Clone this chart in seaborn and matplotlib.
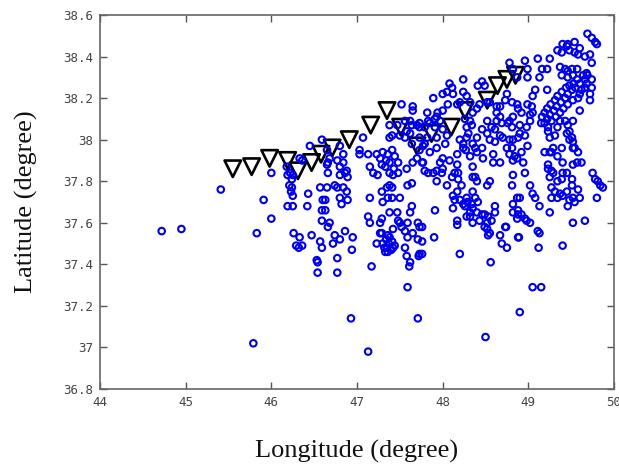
import matplotlib
matplotlib.use("Agg")
import matplotlib.pyplot as plt
import seaborn as sns
import pandas as pd

# ---- data: (longitude, latitude) of events, grouped by area ----
south = [(44.72, 37.56), (44.95, 37.57), (45.41, 37.76), (45.83, 37.55), (45.79, 37.02), (45.91, 37.71),
         (46.00, 37.62), (46.00, 37.84), (46.93, 37.14), (47.13, 36.98), (47.59, 37.29), (47.71, 37.14),
         (48.50, 37.05), (48.90, 37.17), (49.05, 37.29), (49.15, 37.29), (48.20, 37.45), (48.56, 37.41),
         (47.90, 37.53), (49.40, 37.49), (49.12, 37.48), (49.13, 37.55), (48.69, 37.50), (48.75, 37.48),
         (48.89, 37.53), (48.53, 37.54), (47.17, 37.39), (46.94, 37.47), (46.95, 37.53), (46.77, 37.43),
         (46.77, 37.36), (46.54, 37.36), (46.54, 37.41), (46.59, 37.48), (46.72, 37.50), (46.80, 37.52),
         (46.47, 37.54), (46.26, 37.55), (46.29, 37.49), (46.36, 37.49), (46.32, 37.48), (46.53, 37.42),
         (47.29, 37.55), (47.30, 37.50), (47.35, 37.48), (47.42, 37.48), (47.56, 37.48), (47.58, 37.44),
         (47.62, 37.41), (47.61, 37.39), (47.71, 37.52), (47.72, 37.44), (47.34, 37.52), (47.37, 37.50),
         (47.40, 37.47), (47.33, 37.46), (47.38, 37.53)]

central = [(46.63, 37.71), (46.63, 37.66), (46.80, 37.72), (46.82, 37.69), (46.89, 37.71), (46.68, 37.60),
           (46.66, 37.58), (46.74, 37.54), (46.86, 37.56), (47.13, 37.63), (47.15, 37.60), (47.29, 37.62),
           (47.30, 37.70), (47.41, 37.72), (47.27, 37.55), (47.23, 37.50), (47.47, 37.65), (47.48, 37.61),
           (47.42, 37.57), (47.52, 37.58), (47.56, 37.56), (47.62, 37.65), (47.64, 37.68), (47.71, 37.60),
           (47.73, 37.58), (47.59, 37.53), (47.73, 37.45), (47.36, 37.54), (47.41, 37.51), (47.32, 37.48),
           (47.44, 37.49), (47.36, 37.46)]

west = [(46.45, 37.97), (46.33, 37.91), (46.22, 37.84), (46.24, 37.81), (46.24, 37.77), (46.25, 37.73),
        (46.19, 37.68), (46.25, 37.68), (46.43, 37.74), (46.42, 37.68), (46.33, 37.53), (46.59, 38.00),
        (46.57, 37.77), (46.60, 37.71), (46.59, 37.66), (46.59, 37.61), (46.57, 37.51), (46.18, 37.87),
        (46.36, 37.90), (46.25, 37.83), (46.66, 37.89), (46.77, 37.90), (46.84, 37.89), (46.86, 37.84),
        (46.80, 37.83), (46.65, 37.77), (46.74, 37.78), (46.84, 37.77), (46.88, 37.75), (46.65, 37.95),
        (46.68, 37.91), (46.65, 37.88), (46.66, 37.84), (46.21, 37.78), (46.23, 37.75), (46.19, 37.83),
        (46.80, 37.97), (46.84, 37.93)]

middle = [(47.52, 38.17), (47.65, 38.16), (47.38, 38.07), (47.47, 38.07), (47.56, 38.09), (47.62, 38.09),
          (47.70, 38.07), (47.41, 38.02), (47.50, 38.02), (47.56, 38.01), (47.62, 38.03), (47.64, 37.98),
          (47.73, 38.01), (47.73, 37.95), (47.70, 37.91), (47.76, 37.89), (47.07, 38.01), (47.03, 37.95),
          (47.03, 37.93), (47.13, 37.93), (46.80, 37.87), (46.88, 37.85), (46.89, 37.82), (46.77, 37.77),
          (47.15, 37.87), (47.19, 37.84), (47.24, 37.83), (47.30, 37.94), (47.36, 37.93), (47.41, 37.95),
          (47.34, 37.90), (47.38, 37.89), (47.44, 37.92), (47.48, 37.89), (47.29, 37.88), (47.33, 37.87),
          (47.38, 37.84), (47.42, 37.83), (47.48, 37.84), (47.43, 37.86), (47.27, 37.91), (47.58, 37.86),
          (47.64, 37.79), (47.59, 37.78), (47.41, 37.77), (47.35, 37.77), (47.29, 37.75), (47.23, 37.93),
          (47.38, 37.78), (47.15, 37.72), (47.36, 37.72), (47.50, 37.72), (47.27, 37.60), (47.38, 37.65),
          (47.50, 37.60), (47.59, 37.60), (47.65, 37.55), (47.73, 38.08), (47.73, 38.06), (47.79, 37.98),
          (47.79, 37.85), (47.83, 37.84), (47.89, 37.84), (47.93, 37.85), (47.65, 37.89), (47.65, 38.14),
          (47.38, 38.01), (47.58, 38.04), (47.64, 38.07)]

east_central = [(48.78, 38.37), (48.82, 38.34), (48.46, 38.28), (48.41, 38.26), (48.49, 38.26), (48.11, 38.25),
                (48.05, 38.23), (48.12, 38.22), (48.24, 38.23), (48.28, 38.21), (48.20, 38.18), (48.32, 38.18),
                (48.00, 38.22), (47.89, 38.20), (48.06, 38.17), (48.17, 38.17), (47.82, 38.13), (47.94, 38.13),
                (48.00, 38.14), (47.91, 38.10), (47.97, 38.09), (47.85, 38.08), (47.79, 38.06), (47.91, 38.06),
                (48.00, 38.05), (48.05, 38.02), (48.03, 37.98), (47.82, 38.01), (47.77, 37.97), (47.93, 37.96),
                (47.85, 37.94), (47.77, 37.89), (47.97, 37.89), (48.08, 37.90), (48.17, 37.93), (48.24, 37.96),
                (48.20, 38.00), (48.28, 38.06), (48.32, 38.09), (48.35, 38.13), (48.40, 38.15), (48.43, 38.17),
                (48.52, 38.18), (48.55, 38.18), (48.63, 38.16), (48.67, 38.16), (48.63, 38.13), (48.67, 38.11),
                (48.63, 38.09), (48.52, 38.09), (48.57, 38.06), (48.61, 38.05), (48.52, 38.03), (48.46, 38.05),
                (48.40, 38.01), (48.28, 38.01), (48.24, 37.98), (48.35, 37.98), (48.40, 37.94), (48.32, 37.92),
                (48.46, 37.96), (48.47, 37.91), (48.55, 38.00), (48.61, 37.99), (48.67, 38.02), (48.75, 37.96),
                (48.78, 38.00), (48.81, 38.06), (48.78, 38.09), (48.73, 38.19), (48.81, 38.18), (48.87, 38.17),
                (48.75, 38.22), (48.78, 37.93), (48.84, 37.92), (48.59, 37.89), (48.67, 37.89), (48.17, 37.88),
                (48.24, 38.29), (48.08, 38.27), (48.26, 38.10), (48.30, 38.03), (48.34, 38.07), (48.38, 37.96),
                (48.27, 37.95), (47.93, 38.01), (47.93, 38.11), (47.83, 38.09), (48.00, 37.91), (47.99, 37.84),
                (47.93, 37.80), (48.14, 37.84), (48.05, 37.78), (48.11, 37.82), (48.17, 37.75), (48.20, 37.71),
                (48.12, 37.67), (48.17, 37.61), (48.26, 37.68), (48.29, 37.70), (48.35, 37.67), (48.32, 37.63),
                (48.35, 37.60), (48.43, 37.61), (48.49, 37.58), (48.52, 37.57), (48.55, 37.55), (48.61, 37.65),
                (48.73, 37.58), (48.67, 37.54), (47.91, 37.66), (48.35, 37.87), (48.35, 37.82), (48.40, 37.80),
                (48.52, 37.78), (48.55, 37.80)]

east_south = [(48.00, 37.86), (48.18, 37.84), (48.18, 37.81), (48.38, 37.82), (48.82, 37.83), (48.81, 37.78),
              (48.22, 37.78), (48.12, 37.73), (48.14, 37.71), (48.28, 37.72), (48.35, 37.75), (48.38, 37.72),
              (48.24, 37.69), (48.34, 37.69), (48.41, 37.70), (48.32, 37.65), (48.28, 37.63), (48.40, 37.65),
              (48.46, 37.64), (48.49, 37.64), (48.53, 37.63), (48.52, 37.60), (48.57, 37.61), (48.61, 37.68),
              (48.17, 37.59), (47.76, 37.58), (47.76, 37.51), (47.76, 37.45), (48.74, 37.58), (48.82, 37.69),
              (48.87, 37.72), (48.88, 37.64), (48.88, 37.53)]

far_east_south = [(48.96, 37.84), (49.02, 37.78), (49.05, 37.74), (49.08, 37.72), (49.13, 37.68), (49.11, 37.56),
                  (48.88, 37.66), (48.92, 37.64), (48.96, 37.62), (48.98, 37.61), (49.02, 37.60), (49.23, 37.88),
                  (49.27, 37.85), (49.25, 37.82), (49.27, 37.77), (49.31, 37.75), (49.27, 37.72), (49.34, 37.72),
                  (49.37, 37.74), (49.45, 37.75), (49.39, 37.81), (49.40, 37.84), (49.52, 37.88), (49.57, 37.89),
                  (49.62, 37.89), (49.51, 37.81), (49.51, 37.78), (49.52, 37.72), (49.46, 37.68), (49.54, 37.70),
                  (49.58, 37.76), (49.60, 37.72), (49.75, 37.84), (49.78, 37.81), (49.84, 37.78), (49.87, 37.77),
                  (49.80, 37.72), (49.25, 37.65), (49.52, 37.60), (49.66, 37.61)]

far_east_north = [(49.69, 38.51), (49.74, 38.49), (49.78, 38.47), (49.80, 38.46), (49.40, 38.46), (49.46, 38.46),
                  (49.54, 38.47), (49.34, 38.43), (49.39, 38.42), (49.48, 38.43), (49.54, 38.42), (49.60, 38.44),
                  (49.58, 38.41), (49.66, 38.40), (49.72, 38.41), (49.74, 38.37), (48.96, 38.38), (49.11, 38.39),
                  (49.25, 38.39), (48.99, 38.34), (48.99, 38.30), (49.16, 38.34), (49.13, 38.30), (49.08, 38.24),
                  (49.22, 38.24), (49.43, 38.34), (49.46, 38.33), (49.51, 38.34), (49.64, 38.31), (49.69, 38.31),
                  (49.74, 38.29), (49.68, 38.27), (49.74, 38.25), (49.72, 38.22), (49.62, 38.24), (49.60, 38.22),
                  (49.72, 38.19), (49.60, 38.14), (49.52, 38.09), (49.45, 38.03), (49.48, 38.00), (49.52, 37.96),
                  (49.29, 37.96), (49.34, 37.92), (49.40, 37.89), (49.45, 37.84), (49.81, 37.80), (49.25, 37.94),
                  (49.23, 37.86), (49.29, 37.84), (49.34, 37.80), (49.40, 37.73), (49.48, 37.71), (48.94, 37.89),
                  (48.82, 37.90), (48.81, 37.96), (48.82, 38.00), (48.90, 38.03), (48.98, 38.06), (49.02, 38.09),
                  (49.05, 38.13), (49.04, 38.16), (49.05, 38.21), (48.82, 38.11), (48.76, 38.08), (48.70, 38.01),
                  (48.59, 37.93), (48.69, 38.08), (48.82, 37.65), (48.87, 37.62), (48.90, 37.72), (48.87, 38.30),
                  (48.88, 38.15), (48.92, 38.13), (48.99, 38.17), (49.02, 38.12), (48.90, 38.07), (48.88, 38.01),
                  (48.96, 38.02), (48.99, 37.97), (48.92, 37.94), (48.87, 37.91), (49.23, 38.04), (49.25, 38.01),
                  (49.31, 38.02), (49.34, 38.06), (49.37, 38.09), (49.43, 38.09), (49.46, 38.07), (49.48, 38.04),
                  (49.51, 38.01), (49.52, 37.99), (49.54, 37.96), (49.58, 37.94), (49.39, 37.96), (49.27, 37.94),
                  (49.19, 37.94), (49.45, 38.45), (49.22, 38.34), (49.37, 38.35), (49.57, 38.34), (49.68, 38.32)]

far_east_band = [(49.66, 38.29), (49.60, 38.27), (49.55, 38.25), (49.51, 38.24), (49.46, 38.22), (49.43, 38.20),
                 (49.38, 38.18), (49.33, 38.16), (49.30, 38.14), (49.25, 38.12), (49.22, 38.10), (49.19, 38.08),
                 (49.57, 38.29), (49.53, 38.27), (49.48, 38.26), (49.44, 38.25), (49.39, 38.23), (49.34, 38.21),
                 (49.31, 38.19), (49.26, 38.17), (49.22, 38.15), (49.19, 38.13), (49.16, 38.11), (49.15, 38.08),
                 (49.66, 38.25), (49.58, 38.20), (49.52, 38.19), (49.46, 38.17), (49.41, 38.15), (49.37, 38.13),
                 (49.32, 38.11), (49.27, 38.09), (49.23, 38.06), (49.46, 38.30), (49.52, 38.31), (49.39, 38.31)]

# stations (triangles)
station_lon = [45.55, 45.77, 45.98, 46.19, 46.31, 46.47, 46.58, 46.71, 46.91, 47.16,
               47.35, 47.51, 47.70, 47.87, 48.10, 48.26, 48.52, 48.64, 48.75, 48.85]
station_lat = [37.86, 37.87, 37.91, 37.90, 37.85, 37.89, 37.93, 37.96, 38.00, 38.07,
               38.14, 38.06, 37.97, 38.03, 38.06, 38.14, 38.19, 38.26, 38.29, 38.31]

x_ticks = [44, 45, 46, 47, 48, 49, 50]
y_ticks = [36.8, 37.0, 37.2, 37.4, 37.6, 37.8, 38.0, 38.2, 38.4, 38.6]
y_tick_labels = ["36.8", "37", "37.2", "37.4", "37.6", "37.8", "38", "38.2", "38.4", "38.6"]

events = pd.DataFrame(south + central + west + middle + east_central + east_south
                      + far_east_south + far_east_north + far_east_band,
                      columns=["lon", "lat"])
stations = pd.DataFrame({"lon": station_lon, "lat": station_lat})

sns.set_style("ticks")
fig = plt.figure(figsize=(6.19, 4.66), dpi=100)
ax = fig.add_axes([100 / 619, 1 - 389 / 466, 514 / 619, 374 / 466])

sns.scatterplot(data=stations, x="lon", y="lat", ax=ax, marker="v", s=140,
                color="black", facecolor="none", edgecolor="black", linewidth=1.9, zorder=2)
sns.scatterplot(data=events, x="lon", y="lat", ax=ax, marker="o", s=22,
                color="#0000e8", facecolor="none", edgecolor="#0000e8", linewidth=1.5, zorder=3)

ax.set_xlim(44, 50)
ax.set_ylim(36.8, 38.6)
ax.set_xticks(x_ticks)
ax.set_xticklabels([str(t) for t in x_ticks])
ax.set_yticks(y_ticks)
ax.set_yticklabels(y_tick_labels)
ax.tick_params(direction="in", top=True, right=True, length=5, width=1,
               color="#555555", labelcolor="#444444", labelsize=9, pad=5)
for lab in ax.get_xticklabels() + ax.get_yticklabels():
    lab.set_family("DejaVu Sans Mono")
for sp in ax.spines.values():
    sp.set_visible(True)
    sp.set_color("#666666")
    sp.set_linewidth(1.2)

ax.set_xlabel("Longitude (degree)", family="Liberation Serif", fontsize=19, labelpad=22, color="#111111")
ax.set_ylabel("Latitude (degree)", family="Liberation Serif", fontsize=19, labelpad=18, color="#111111")

fig.savefig("out.png", dpi=100)
